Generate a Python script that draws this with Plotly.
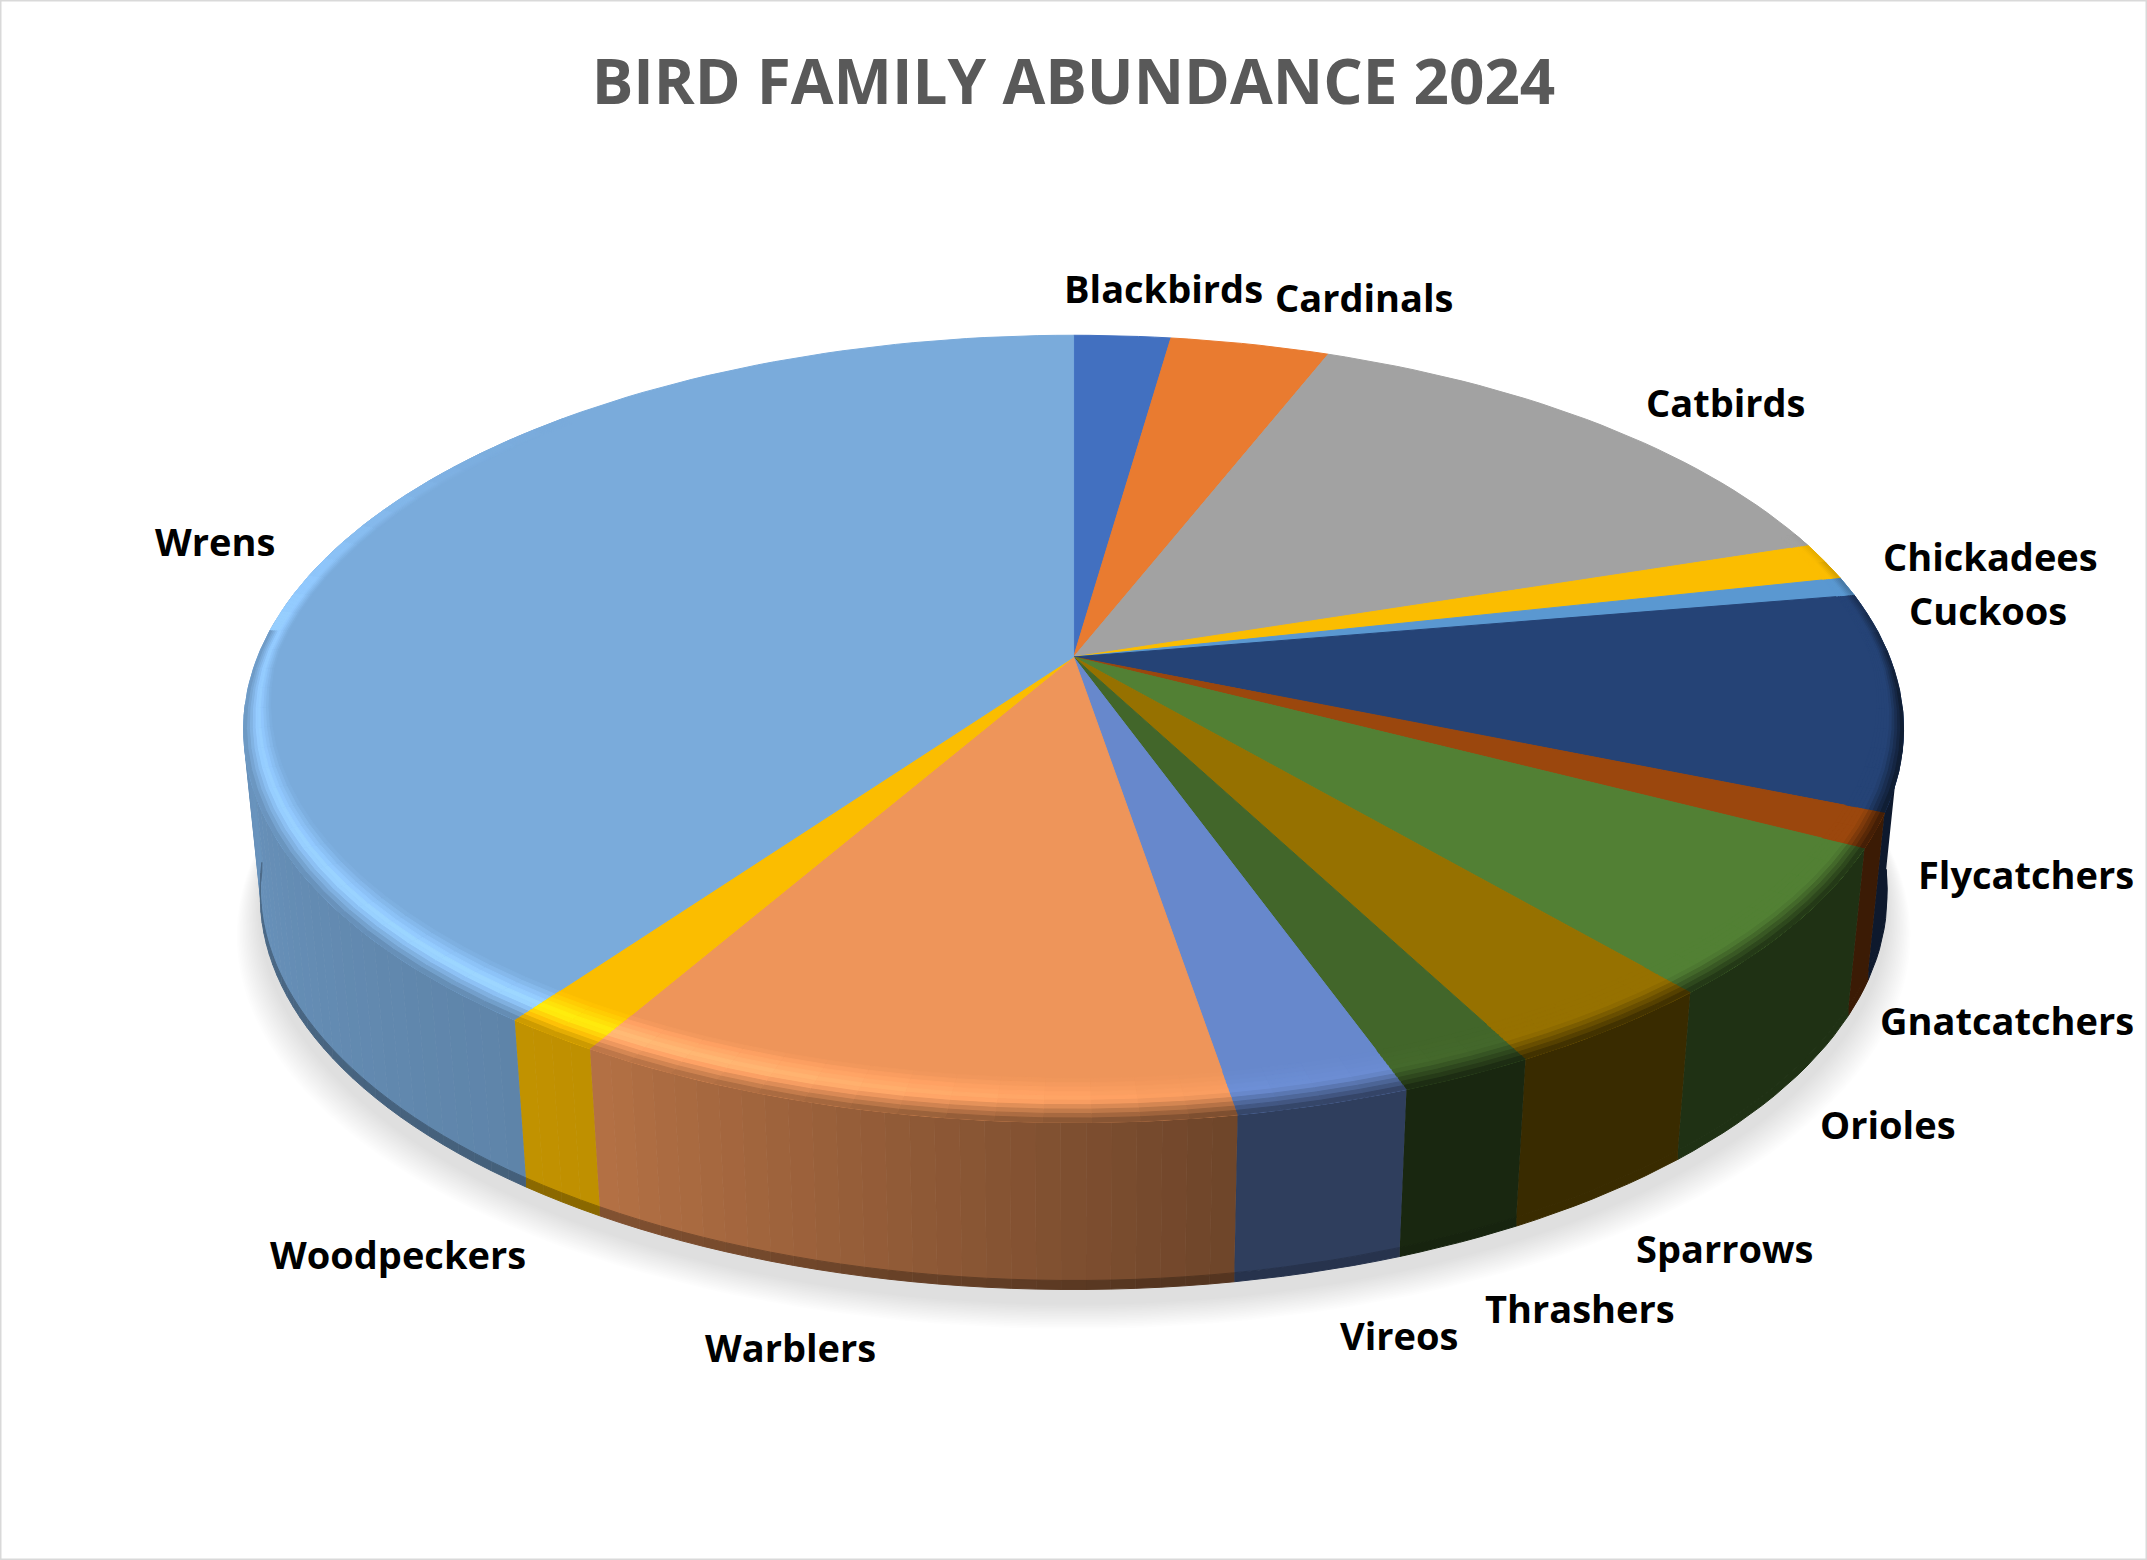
# Bird family abundance as a tilted 3D pie, built from scatter polygons
import numpy as np
import plotly.graph_objects as go

# Data
families = ["Blackbirds", "Cardinals", "Catbirds", "Chickadees", "Cuckoos", "Flycatchers",
            "Gnatcatchers", "Orioles", "Sparrows", "Thrashers", "Vireos", "Warblers",
            "Woodpeckers", "Wrens"]
abundance = [2.25, 3.7, 14.05, 1.55, 0.78, 8.9, 1.4, 6.1, 3.6, 2.2, 2.85, 10.95, 1.6, 40.1]
colors = ["#4270C0", "#E97B30", "#A2A2A2", "#FBBD00", "#5A98D1", "#254376", "#9B470D",
          "#528034", "#967100", "#42662A", "#6788CC", "#EE955A", "#FBBD00", "#7AABDB"]

# Label centres, in page pixels
label_x = [1163, 1364, 1726, 1990, 1988, 2026, 2007, 1888, 1724, 1580, 1399, 790, 398, 215]
label_y = [288, 297, 402, 556, 610, 874, 1020, 1124, 1248, 1308, 1335, 1347, 1254, 541]

W, H = 2147, 1560
CX, CY = 1073.6, 657
A, B, K = 816, 380.5, 0.1826  # perspective of the top face
DEPTH, BOTTOM_SCALE = 167, 0.98


def rim(theta_deg, r=1.0):
    # theta runs clockwise from 12 o'clock
    t = np.radians(theta_deg)
    u, v = r * np.sin(t), r * np.cos(t)
    w = 1 + K * v
    return CX + A * u / w, CY - B * v / w


def bottom(theta_deg, lift=0.0):
    x, y = rim(theta_deg)
    return CX + BOTTOM_SCALE * (x - CX), y + DEPTH - lift


def rgb(hex_color):
    return np.array([int(hex_color[i:i + 2], 16) for i in (1, 3, 5)], dtype=float)


def css(c):
    c = np.clip(c, 0, 255).round().astype(int)
    return f"rgb({c[0]},{c[1]},{c[2]})"


def wall_shade(theta):
    return np.interp(theta, [159, 160, 172, 210, 270], [0.38, 0.44, 0.47, 0.76, 0.88])


def highlight(theta):
    return np.interp(theta, [150, 175, 200, 215, 260, 285, 310, 325],
                     [0, 0.25, 0.8, 1, 0.8, 0.7, 0.25, 0])


def rim_fade(theta):
    return np.interp(theta, [70, 95, 275, 315], [0, 1, 1, 0])


def poly(xs, ys, color):
    return go.Scatter(x=list(xs), y=list(ys), mode="lines", fill="toself", fillcolor=color,
                      line=dict(color=color, width=1), hoverinfo="skip", showlegend=False)


def segments(a0, a1, step):
    n = max(1, int(np.ceil((a1 - a0) / step)))
    return np.linspace(a0, a1, n + 1)


fig = go.Figure()

# Soft shadow under the pie
full = np.linspace(0, 360, 181)
for grow in range(32, 0, -2):
    x, y = bottom(full)
    fig.add_trace(go.Scatter(x=CX + (x - CX) * (1 + grow / 1100), y=y + 14 + grow * 0.8,
                             mode="lines", fill="toself", fillcolor="rgba(0,0,0,0.007)",
                             line=dict(width=0), hoverinfo="skip", showlegend=False))

# Slice boundaries come from the values
shares = np.array(abundance) / sum(abundance) * 360
ends = np.cumsum(shares)
starts = ends - shares

# Side walls, only the part facing the viewer
for a0, a1, col in zip(starts, ends, colors):
    lo, hi = max(a0, 98), min(a1, 263)
    if hi <= lo:
        continue
    base = rgb(col)
    # shade is flat on the dark side, so fine strips only on the lit side
    angles = segments(lo, hi, 30 if a1 <= 172 else 1.5)
    for t0, t1 in zip(angles[:-1], angles[1:]):
        mid = (t0 + t1) / 2
        shade = base * wall_shade(mid)
        sub = segments(t0, t1, 1.5)
        xt, yt = rim(sub)
        xb, yb = bottom(sub[::-1], lift=9)
        fig.add_trace(poly(np.r_[xt, xb], np.r_[yt, yb], css(shade)))
        xe, ye = bottom(sub[::-1])
        lip = np.interp(mid, [150, 175], [1, 0.72])
        fig.add_trace(poly(np.r_[xb[::-1], xe], np.r_[yb[::-1], ye], css(shade * lip)))

# Top faces
for a0, a1, col in zip(starts, ends, colors):
    angles = segments(a0, a1, 1.5)
    x, y = rim(angles)
    fig.add_trace(poly(np.r_[CX, x, CX], np.r_[CY, y, CY], col))

# Bevel along the front edge, inner edge stays on the slice's radial lines
levels = np.linspace(0, 1, 11)
for a0, a1, col in zip(starts, ends, colors):
    lo, hi = max(a0, 70), min(a1, 315)
    if hi <= lo:
        continue
    base = rgb(col)
    angles = segments(lo, hi, 3)
    for t0, t1 in zip(angles[:-1], angles[1:]):
        mid = (t0 + t1) / 2
        h, fade = highlight(mid), rim_fade(mid)
        lit = base * (1 + 0.2 * h) + 15 * h
        wall = base * wall_shade(mid)
        if mid > 275:
            wall = lit
        ends_t = np.array([t0, t1])
        xo, yo = rim(ends_t)
        xi, yi = rim(ends_t, 1 - 0.023 - 0.056 * np.maximum(0, -np.cos(np.radians(ends_t))))
        for s0, s1 in zip(levels[:-1], levels[1:]):
            s = (s0 + s1) / 2
            if s < 0.5:
                c = base + (lit - base) * s / 0.5
            else:
                c = lit + (wall - lit) * (s - 0.5) / 0.5
            c = base + (c - base) * fade
            xa, ya = xi + (xo - xi) * s0, yi + (yo - yi) * s0
            xb, yb = xi + (xo - xi) * s1, yi + (yo - yi) * s1
            fig.add_trace(poly(np.r_[xa, xb[::-1]], np.r_[ya, yb[::-1]], css(c)))

# Slice names
for name, lx, ly in zip(families, label_x, label_y):
    fig.add_annotation(x=lx, y=ly, text=f"<b>{name}</b>", showarrow=False,
                       font=dict(family="Open Sans", size=38, color="#000000"))

fig.update_layout(
    width=W, height=H, margin=dict(l=0, r=0, t=0, b=0),
    paper_bgcolor="white", plot_bgcolor="white", showlegend=False,
    title=dict(text="<b>BIRD FAMILY ABUNDANCE 2024</b>", x=0.5, xanchor="center",
               y=0.947, yanchor="middle",
               font=dict(family="Open Sans", size=62, color="#595959")),
    xaxis=dict(range=[0, W], visible=False, fixedrange=True),
    yaxis=dict(range=[H, 0], visible=False, fixedrange=True),
    shapes=[dict(type="rect", xref="paper", yref="paper", x0=0, y0=0, x1=1, y1=1,
                 line=dict(color="#D9D9D9", width=3))],
)

# Page margin would push the chart off the window
fig.write_html("out.html", config={"displayModeBar": False},
               post_script="document.body.style.margin='0';")
